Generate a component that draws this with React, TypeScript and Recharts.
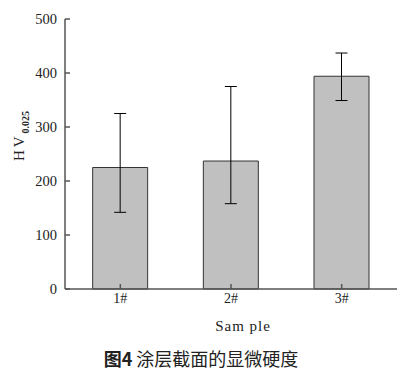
import React from "react"
import { BarChart, Bar, XAxis, YAxis, ErrorBar } from "recharts"

const samples = ["1#", "2#", "3#"]
const hardness = [225, 237, 394]
// [below, above] error amounts
const errors: [number, number][] = [
  [83, 100],
  [79, 138],
  [45, 43],
]
const yTicks = [0, 100, 200, 300, 400, 500]

const data = samples.map((s, i) => ({ name: s, hv: hardness[i], err: errors[i] }))

const axisColor = "#555"
const serif = "'Liberation Serif', 'DejaVu Serif', serif"

// rotated HV label with subscript
const YLabel = ({ viewBox }: any) => {
  const cy = viewBox.y + viewBox.height / 2 - 18
  return (
    <text
      x={0}
      y={0}
      transform={`translate(24, ${cy}) rotate(-90)`}
      textAnchor="middle"
      fontFamily={serif}
      fontSize={15}
      fill="#222"
    >
      <tspan letterSpacing={3}>HV</tspan>
      <tspan fontSize={10} fontWeight="bold" dy={5}>0.025</tspan>
    </text>
  )
}

const blank = () => ""

export default function App() {
  return (
    <div style={{ position: "absolute", left: 0, top: 0, width: 418, height: 379, background: "#fff" }}>
      <BarChart
        width={418}
        height={379}
        data={data}
        margin={{ top: 19, right: 21, bottom: 62, left: 0 }}
        barCategoryGap="25%"
      >
        <XAxis
          dataKey="name"
          stroke={axisColor}
          strokeWidth={1.5}
          tickSize={-5}
          tickMargin={9}
          tick={{ fill: "#222", fontSize: 14, fontFamily: serif }}
          height={28}
          label={{
            value: "Sam ple",
            position: "insideBottom",
            offset: -14,
            dx: 12,
            style: { fill: "#222", fontSize: 15, fontFamily: serif, letterSpacing: 1 },
          }}
        />
        <XAxis
          xAxisId="top"
          dataKey="name"
          orientation="top"
          stroke={axisColor}
          strokeWidth={1.5}
          tickSize={-5}
          tickFormatter={blank}
          height={0}
        />
        <YAxis
          domain={[0, 500]}
          ticks={yTicks}
          width={65}
          stroke={axisColor}
          strokeWidth={1.5}
          tickSize={-5}
          tickMargin={13}
          tick={{ fill: "#222", fontSize: 14.5, fontFamily: serif }}
          label={<YLabel />}
        />
        <YAxis
          yAxisId="right"
          orientation="right"
          domain={[0, 500]}
          ticks={yTicks}
          width={0}
          stroke={axisColor}
          strokeWidth={1.5}
          tickSize={-5}
          tickFormatter={blank}
        />
        <Bar dataKey="hv" fill="#c0c0c0" stroke="#333" strokeWidth={1} isAnimationActive={false}>
          <ErrorBar dataKey="err" width={6} stroke="#000" strokeWidth={1} isAnimationActive={false} />
        </Bar>
      </BarChart>
      <div
        style={{
          position: "absolute",
          left: -8,
          width: 418,
          top: 345,
          textAlign: "center",
          fontFamily: "'Noto Sans CJK SC', sans-serif",
          fontSize: 18,
          color: "#222",
        }}
      >
        <span style={{ fontWeight: "bold" }}>图4</span> 涂层截面的显微硬度
      </div>
    </div>
  )
}
